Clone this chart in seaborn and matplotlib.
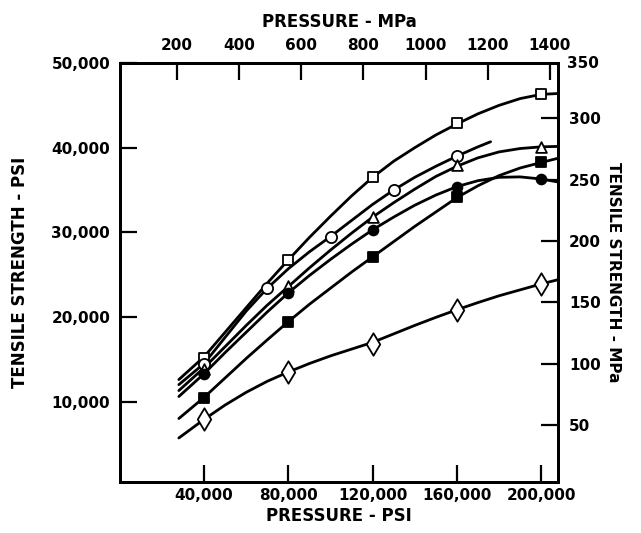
import numpy as np
import pandas as pd
import matplotlib
matplotlib.use("Agg")
import matplotlib.pyplot as plt
import seaborn as sns

# --- data (PSI) ---
press_pts = [40000, 80000, 120000, 160000, 200000]
sq_open = [15200, 26750, 36550, 42900, 46300]
tri_open = [13900, 23600, 31800, 37950, 40100]
circ_fill = [13300, 22850, 30300, 35400, 36300]
sq_fill = [10450, 19450, 27100, 34150, 38250]
diamond = [7900, 13550, 16850, 20850, 23900]
circ_open_x = [40000, 70000, 100000, 130000, 160000]
circ_open = [14400, 23450, 29500, 35000, 39050]

# fitted curves
curve_x = [28000, 40000, 50000, 60000, 70000, 80000, 90000, 100000, 110000, 120000,
           130000, 140000, 150000, 160000, 170000, 180000, 190000, 200000, 208000]
sq_open_curve = [12600, 15300, 18200, 21100, 24000, 26750, 29400, 31900, 34300, 36500,
                 38400, 40000, 41500, 42800, 44000, 45000, 45800, 46300, 46400]
tri_open_curve = [11300, 14000, 16500, 19000, 21400, 23600, 25800, 27900, 29900, 31800,
                  33500, 35100, 36600, 37800, 38800, 39500, 39900, 40100, 40150]
circ_fill_curve = [10600, 13300, 15800, 18200, 20600, 22850, 24900, 26800, 28600, 30300,
                   31800, 33200, 34400, 35400, 36100, 36500, 36550, 36300, 35950]
sq_fill_curve = [8000, 10500, 12800, 15100, 17300, 19450, 21500, 23400, 25300, 27100,
                 28900, 30700, 32400, 34100, 35500, 36700, 37600, 38250, 38750]
diamond_curve = [5700, 7900, 9600, 11100, 12400, 13500, 14500, 15400, 16200, 17000,
                 18000, 19000, 19950, 20850, 21700, 22500, 23200, 23900, 24400]
circ_open_curve_x = [28000, 40000, 50000, 60000, 70000, 80000, 90000, 100000, 110000,
                     120000, 130000, 140000, 150000, 160000, 170000, 176000]
circ_open_curve = [12000, 14500, 17600, 20700, 23400, 25700, 27700, 29500, 31400,
                   33300, 35000, 36500, 37800, 39000, 40100, 40700]

psi_ticks = [10000, 20000, 30000, 40000, 50000]
psi_labels = ["10,000", "20,000", "30,000", "40,000", "50,000"]
press_ticks = [40000, 80000, 120000, 160000, 200000]
press_labels = ["40,000", "80,000", "120,000", "160,000", "200,000"]
mpa_press_ticks = [200, 400, 600, 800, 1000, 1200, 1400]
mpa_strength_ticks = [50, 100, 150, 200, 250, 300, 350]

sns.set_style("ticks")
plt.rcParams['font.family'] = ['DejaVu Sans']
plt.rcParams['font.weight'] = 'bold'
for key in ['text.color', 'axes.labelcolor', 'xtick.color', 'ytick.color', 'axes.edgecolor']:
    plt.rcParams[key] = 'black'

fig = plt.figure(figsize=(6.41, 5.33), dpi=100)
ax = fig.add_axes([0.187, 0.0957, 0.6835, 0.786])

lw = 2.0
curves = [
    (curve_x, sq_open_curve),
    (circ_open_curve_x, circ_open_curve),
    (curve_x, tri_open_curve),
    (curve_x, circ_fill_curve),
    (curve_x, sq_fill_curve),
    (curve_x, diamond_curve),
]
for cx, cy in curves:
    sns.lineplot(x=cx, y=cy, ax=ax, color="black", linewidth=lw, sort=False,
                 estimator=None, zorder=2)

marker_sets = [
    (press_pts, sq_open, "s", "white", 55),
    (circ_open_x, circ_open, "o", "white", 65),
    (press_pts, tri_open, "^", "white", 60),
    (press_pts, circ_fill, "o", "black", 50),
    (press_pts, sq_fill, "s", "black", 50),
    (press_pts, diamond, "d", "white", 130),
]
for mx, my, mk, fc, sz in marker_sets:
    sns.scatterplot(x=mx, y=my, ax=ax, marker=mk, s=sz, color=fc,
                    edgecolor="black", linewidth=1.3, zorder=3)

label_fs = 12
tick_fs = 11

ax.set_xlim(0, 208000)
ax.set_ylim(500, 50000)
ax.set_xticks(press_ticks)
ax.set_xticklabels(press_labels)
ax.set_yticks(psi_ticks)
ax.set_yticklabels(psi_labels)
ax.set_xlabel("PRESSURE - PSI", fontsize=label_fs, fontweight="bold", labelpad=3)
ax.set_ylabel("TENSILE STRENGTH - PSI", fontsize=label_fs, fontweight="bold", labelpad=16)

# top axis in MPa
axt = ax.twiny()
axt.set_xlim(17, 1426)
axt.set_xticks(mpa_press_ticks)
axt.set_xticklabels([str(v) for v in mpa_press_ticks])
axt.set_xlabel("PRESSURE - MPa", fontsize=label_fs, fontweight="bold", labelpad=8)

# right axis in MPa
axr = ax.twinx()
axr.set_ylim(3.4, 345)
axr.set_yticks(mpa_strength_ticks[:-1])
axr.set_yticklabels([str(v) for v in mpa_strength_ticks[:-1]])
axr.text(1.02, 1.0, "350", transform=axr.transAxes, fontsize=tick_fs,
         fontweight="bold", va="center", ha="left")
axr.set_ylabel("TENSILE STRENGTH - MPa", fontsize=11, fontweight="bold",
               rotation=270, labelpad=14)

for a in (ax, axt, axr):
    for sp in a.spines.values():
        sp.set_linewidth(2.0)
        sp.set_visible(True)
    a.tick_params(direction="in", length=12, width=1.6, labelsize=tick_fs, pad=6)

ax.tick_params(axis="y", pad=7)
ax.tick_params(axis="x", pad=4)
ax.tick_params(top=False, right=False)
axt.tick_params(axis="x", bottom=False, top=True, pad=7)
axr.tick_params(axis="y", left=False, right=True, pad=8)

for lbl in ax.get_xticklabels() + ax.get_yticklabels() + axt.get_xticklabels() + axr.get_yticklabels():
    lbl.set_fontweight("bold")

fig.savefig("out.png", dpi=100)
